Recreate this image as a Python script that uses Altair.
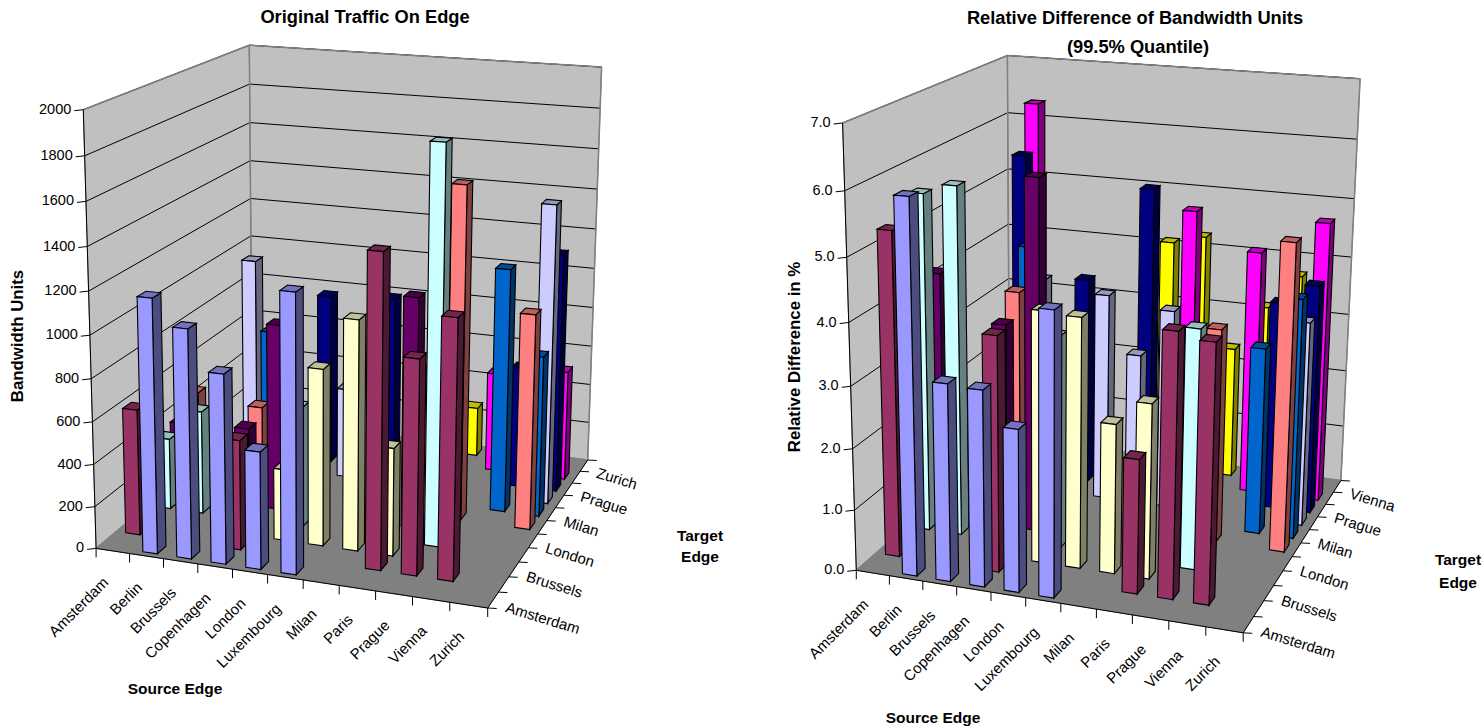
import numpy as np
import pandas as pd
import altair as alt

W, H = 1484, 728

source_edges = ["Amsterdam", "Berlin", "Brussels", "Copenhagen", "London", "Luxembourg",
                "Milan", "Paris", "Prague", "Vienna", "Zurich"]
left_targets = ["Amsterdam", "Brussels", "London", "Milan", "Prague", "Zurich"]
right_targets = ["Amsterdam", "Brussels", "London", "Milan", "Prague", "Vienna"]

# one colour per target row, front to back
row_colors = ["#9999FF", "#993366", "#FFFFCC", "#CCFFFF", "#660066", "#FF8080",
              "#0066CC", "#CCCCFF", "#000080", "#FF00FF", "#FFFF00"]

# bandwidth units: source positions and values per target row
left_src = [[1, 2, 3, 4, 5], [0, 3, 7, 8, 9], [4, 5, 6, 7], [0, 1, 4, 8], [0, 2, 3, 7],
            [0, 2, 7, 8, 10], [2, 7, 9, 10], [1, 4, 10], [3, 5, 9, 10], [6, 8, 10], [7]]
left_val = [[1186, 1065, 880, 546, 1280], [600, 518, 1445, 990, 1190], [340, 835, 1080, 508],
            [345, 500, 580, 1860], [365, 380, 905, 1105],
            [465, 430, 555, 1600, 1030], [755, 640, 1180, 780], [1050, 450, 1460],
            [860, 880, 600, 1180], [490, 500, 550], [250]]

# relative difference in %: source positions and values per target row
right_src = [[1, 2, 3, 4, 5], [0, 3, 7, 8, 9], [4, 5, 6, 7], [0, 1, 4, 8], [0, 2, 3],
             [2, 7, 8, 10], [2, 9, 10], [2, 4, 5, 6, 10], [1, 3, 5, 9, 10], [1, 6, 8, 10],
             [5, 6, 7, 8, 9]]
right_val = [[5.97, 3.18, 3.15, 2.61, 4.5], [5.27, 3.82, 2.16, 4.2, 4.1], [4.1, 4.06, 2.44, 2.84],
             [5.58, 5.75, 3.53, 3.9], [4.15, 3.42, 5.85],
             [3.8, 2.1, 3.55, 5.05], [4.4, 3.13, 4.0], [3.7, 3.55, 2.58, 3.4, 3.45],
             [5.63, 3.6, 5.25, 3.55, 3.9], [6.4, 4.8, 4.2, 4.8],
             [4.07, 4.22, 2.3, 3.1, 3.7]]


def camera(pairs):
    """Solve a 3x4 perspective matrix from (x, y, z) -> (px, py) pairs."""
    rows = []
    for (x, y, z), (u, v) in pairs:
        rows.append([x, y, z, 1, 0, 0, 0, 0, -u * x, -u * y, -u * z, -u])
        rows.append([0, 0, 0, 0, x, y, z, 1, -v * x, -v * y, -v * z, -v])
    return np.linalg.svd(np.array(rows, float))[2][-1].reshape(3, 4)


def project(P, x, y, z):
    q = P @ np.array([x, y, z, 1.0])
    return [round(float(q[0] / q[2]), 1), round(float(q[1] / q[2]), 1)]


def shade(color, k):
    r, g, b = (int(color[n:n + 2], 16) for n in (1, 3, 5))
    return "#%02X%02X%02X" % (int(r * k), int(g * k), int(b * k))


def poly(P, pts, fill):
    ring = [project(P, *p) for p in pts]
    return {"type": "Feature", "properties": {"fill": fill},
            "geometry": {"type": "Polygon", "coordinates": [ring + [ring[0]]]}}


def line(a, b, stroke):
    return {"type": "Feature", "properties": {"stroke": stroke},
            "geometry": {"type": "LineString", "coordinates": [a, b]}}


def box(P, i, j, v, top, wx=0.43, wy=0.54):
    x0, x1 = (i + 0.5 - wx / 2) / 11, (i + 0.5 + wx / 2) / 11
    y0, y1 = (j + 0.5 - wy / 2) / 11, (j + 0.5 + wy / 2) / 11
    h = v / top
    c = row_colors[j]
    return [
        poly(P, [(x1, y0, 0), (x1, y1, 0), (x1, y1, h), (x1, y0, h)], shade(c, 0.5)),
        poly(P, [(x0, y0, h), (x1, y0, h), (x1, y1, h), (x0, y1, h)], shade(c, 0.75)),
        poly(P, [(x0, y0, 0), (x1, y0, 0), (x1, y0, h), (x0, y0, h)], c),
    ]


def panel(corners, srcs, vals, top, steps, step_labels, targets, lab):
    A, B, C, D, Az, Cz, Dz = corners
    P = camera([((0, 0, 0), A), ((1, 0, 0), B), ((1, 1, 0), C), ((0, 1, 0), D),
                ((0, 0, 1), Az), ((1, 1, 1), Cz), ((0, 1, 1), Dz)])
    walls = [
        poly(P, [(0, 0, 0), (0, 1, 0), (0, 1, 1), (0, 0, 1)], "#C0C0C0"),
        poly(P, [(0, 1, 0), (1, 1, 0), (1, 1, 1), (0, 1, 1)], "#C0C0C0"),
        poly(P, [(0, 0, 0), (1, 0, 0), (1, 1, 0), (0, 1, 0)], "#808080"),
    ]
    grid, edge, ticks = [], [], []
    for k in range(1, steps + 1):
        z = k / steps
        grid.append(line(project(P, 0, 0, z), project(P, 0, 1, z), "#000000"))
        grid.append(line(project(P, 0, 1, z), project(P, 1, 1, z), "#000000"))
    for a, b in [((0, 0, 1), (0, 1, 1)), ((0, 1, 1), (1, 1, 1)), ((1, 1, 1), (1, 1, 0)),
                 ((0, 1, 1), (0, 1, 0)), ((0, 0, 0), (0, 1, 0)), ((0, 1, 0), (1, 1, 0))]:
        edge.append(line(project(P, *a), project(P, *b), "#808080"))
    for a, b in [((0, 0, 0), (0, 0, 1)), ((0, 0, 0), (1, 0, 0)), ((1, 0, 0), (1, 1, 0))]:
        ticks.append(line(project(P, *a), project(P, *b), "#000000"))
    texts = []
    for k in range(steps + 1):
        p = project(P, 0, 0, k / steps)
        ticks.append(line(p, [p[0] - 9, p[1] + 1], "#000000"))
        texts.append(dict(t=step_labels[k], x=p[0] - 12, y=p[1]))
    for k in range(12):
        p = project(P, k / 11, 0, 0)
        ticks.append(line(p, [p[0], p[1] + 9], "#000000"))
        q = project(P, 1, k / 11, 0)
        ticks.append(line(q, [q[0] + 9, q[1] + 0.5], "#000000"))
    bars = []
    for j in range(10, -1, -1):
        for i, v in zip(srcs[j], vals[j]):
            bars += box(P, i, j, v, top)
    src_text = []
    for i, name in enumerate(source_edges):
        p = project(P, (i + 0.5) / 11, 0, 0)
        src_text.append(dict(t=name, x=p[0] + lab[0], y=p[1] + lab[1]))
    tgt_text = []
    for n, name in enumerate(targets):
        p = project(P, 1, (2 * n + 0.5) / 11, 0)
        tgt_text.append(dict(t=name, x=p[0] + lab[2], y=p[1] + lab[3]))
    return walls, grid, edge, ticks, bars, texts, src_text, tgt_text


left = panel([(97, 548), (488, 608), (588, 460), (251, 418), (82, 110), (601, 67), (251, 45)],
             left_src, left_val, 2000, 10,
             [str(200 * k) for k in range(11)], left_targets, (-7, 29, 13, 7))
right = panel([(858, 571), (1242, 633), (1342, 480), (1008, 436), (842, 122), (1360, 79), (1008, 56)],
              right_src, right_val, 7.0, 7,
              ["%.1f" % k for k in range(8)], right_targets, (-7, 29, 13, 7))


def shapes(features, **mark):
    return alt.Chart(alt.InlineData(values=features)).mark_geoshape(
        strokeJoin="miter", **mark).encode(
        fill=alt.Fill("properties.fill:N", scale=None)).project(type="identity", scale=1, translate=[0, 0])


def strokes(features, width):
    return alt.Chart(alt.InlineData(values=features)).mark_geoshape(
        filled=False, strokeWidth=width).encode(
        stroke=alt.Stroke("properties.stroke:N", scale=None)).project(type="identity", scale=1, translate=[0, 0])


xs = alt.X("x:Q", scale=alt.Scale(domain=[0, W]), axis=None)
ys = alt.Y("y:Q", scale=alt.Scale(domain=[H, 0]), axis=None)


def labels(rows, **mark):
    return alt.Chart(pd.DataFrame(rows)).mark_text(
        font="Liberation Sans", color="#000000", **mark).encode(
        x=xs, y=ys, text="t:N")


layers = []
for walls, grid, edge, ticks, bars, texts, src_text, tgt_text in (left, right):
    layers += [
        shapes(walls, stroke="#808080", strokeWidth=1),
        strokes(grid, 1),
        strokes(edge, 1.5),
        strokes(ticks, 1),
        shapes(bars, stroke="#000000", strokeWidth=1.1),
        labels(texts, fontSize=14.5, align="right", baseline="middle"),
        labels(src_text, fontSize=15, align="right", baseline="middle", angle=315),
        labels(tgt_text, fontSize=15, align="left", baseline="middle", angle=17),
    ]

chart_titles = [dict(t="Original Traffic On Edge", x=365, y=18),
                dict(t="Relative Difference of Bandwidth Units", x=1135, y=19),
                dict(t="(99.5% Quantile)", x=1138, y=48)]
axis_names = [dict(t="Source Edge", x=175, y=689), dict(t="Target", x=700, y=536),
              dict(t="Edge", x=700, y=557), dict(t="Source Edge", x=933, y=718),
              dict(t="Target", x=1458, y=560), dict(t="Edge", x=1458, y=583)]
value_names = [dict(t="Bandwidth Units", x=18, y=336), dict(t="Relative Difference in %", x=795, y=357)]

layers += [
    labels(chart_titles, fontSize=18.3, fontWeight="bold", align="center", baseline="middle"),
    labels(axis_names, fontSize=15.5, fontWeight="bold", align="center", baseline="middle"),
    labels(value_names, fontSize=16.8, fontWeight="bold", align="center", baseline="middle", angle=270),
]

chart = alt.layer(*layers).properties(
    width=W, height=H, padding=0, autosize=alt.AutoSizeParams(type="none"),
    background="#FFFFFF",
).configure_view(stroke=None)

chart.save("out.html", embed_options={"renderer": "svg", "actions": False})
